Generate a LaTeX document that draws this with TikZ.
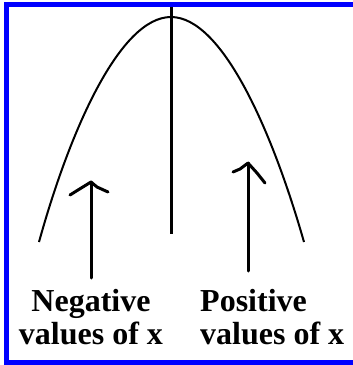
\documentclass[tikz,border=0pt]{standalone}
\usepackage{fontspec}
\setmainfont{Liberation Serif}
\usetikzlibrary{calc}

\begin{document}
\begin{tikzpicture}[x=1pt, y=-1pt,
    curve/.style={black, line width=2pt},
    shaft/.style={black, line width=3pt, line cap=round, line join=round},
    tag/.style={inner sep=0pt, font=\bfseries\fontsize{32}{33}\selectfont}]
    \clip (0,0) rectangle (353,365);
    
    % blue frame, its right side lies outside the picture
    \draw[blue, line width=5pt] (370, 4.5) -- (6, 4.5) -- (6, 362) -- (370, 362);
    
    \coordinate (apex) at (171, 17);
    \draw[curve] (39, 242) .. controls (70, 130) and (120, 17) .. (apex)
      .. controls (222, 17) and (272, 130) .. (304, 242);
    \coordinate (top) at (171, 7);
    \coordinate (foot) at (171, 234);
    \draw[shaft, line cap=butt] (top) -- (foot);
    
    \node[tag, align=center, anchor=north] (neg) at (91, 289) {Negative\\values of x};
    \node[tag, align=left, anchor=north west] (pos) at (200, 289) {Positive\\values of x};
    
    \coordinate (tipL) at (91, 182);
    \draw[shaft, shorten <=11pt] (neg.north -| tipL) -- (tipL);
    \draw[shaft] (70, 195) -- (78, 190) -- (tipL) -- (97, 187) -- (108, 192);
    
    \coordinate (tipR) at (248, 163);
    \draw[shaft, shorten <=18pt] (pos.north -| tipR) -- (tipR);
    \draw[shaft] (233, 172) -- (240, 169) -- (tipR) -- (257, 173) -- (265, 183);
    
\end{tikzpicture}
\end{document}
